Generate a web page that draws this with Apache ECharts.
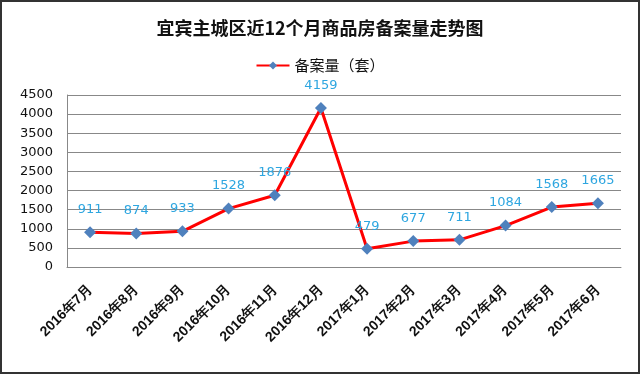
<!DOCTYPE html>
<html><head><meta charset="utf-8">
<script src="https://cdn.jsdelivr.net/npm/echarts@6/dist/echarts.min.js"></script>
<style>html,body{margin:0;padding:0;background:#fff}#c{width:640px;height:374px;box-sizing:border-box;border:2px solid #333}</style>
</head><body><div id="c"></div>
<script>
const categories = ['2016年7月','2016年8月','2016年9月','2016年10月','2016年11月','2016年12月','2017年1月','2017年2月','2017年3月','2017年4月','2017年5月','2017年6月'];
const values = [911, 874, 933, 1528, 1876, 4159, 479, 677, 711, 1084, 1568, 1665];
const seriesName = '备案量（套）';
const titleText = '宜宾主城区近12个月商品房备案量走势图';

const chart = echarts.init(document.getElementById('c'));
chart.setOption({
  animation: false,
  title: {text: titleText, left: 'center', top: 12, textStyle: {fontSize: 18, fontWeight: 'bold', color: '#111', fontFamily: 'Noto Sans CJK SC'}},
  legend: {data: [seriesName], top: 51, left: 'center', itemWidth: 33, itemHeight: 10, itemGap: 4, textStyle: {fontSize: 15, color: '#111', fontFamily: 'Noto Sans CJK SC'}},
  grid: {left: 65, right: 17, top: 93, bottom: 105, containLabel: false},
  xAxis: {type: 'category', data: categories, boundaryGap: true,
    axisLine: {lineStyle: {color: '#888'}}, axisTick: {show: false},
    axisLabel: {rotate: 45, fontSize: 14, fontWeight: 'bold', color: '#111', margin: 20, fontFamily: 'Liberation Sans'}},
  yAxis: {type: 'value', min: 0, max: 4500, interval: 500,
    axisLine: {show: true, lineStyle: {color: '#888'}}, axisTick: {show: false},
    splitLine: {lineStyle: {color: '#888'}},
    axisLabel: {fontSize: 13, color: '#111', margin: 14, fontFamily: 'DejaVu Sans', formatter: v => String(v)}},
  series: [{name: seriesName, type: 'line', data: values,
    symbol: 'diamond', symbolSize: 12,
    lineStyle: {color: '#ff0000', width: 3},
    itemStyle: {color: '#4f81bd'},
    label: {show: true, position: 'top', distance: 10, color: '#2ea6e0', fontSize: 13, fontFamily: 'DejaVu Sans'}}]
});
</script></body></html>
